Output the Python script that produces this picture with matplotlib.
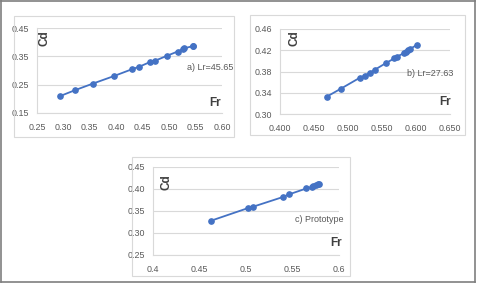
import matplotlib
matplotlib.use("Agg")
import matplotlib.pyplot as plt
from matplotlib.patches import Rectangle
from matplotlib.lines import Line2D

plt.rcParams['font.family'] = ['Liberation Sans', 'DejaVu Sans']

# a) Lr=45.65
fr_a = [0.294, 0.3225, 0.356, 0.395, 0.429, 0.443, 0.464, 0.474, 0.496, 0.516, 0.526, 0.528, 0.5445, 0.546]
cd_a = [0.210, 0.231, 0.254, 0.280, 0.304, 0.313, 0.330, 0.335, 0.352, 0.367, 0.375, 0.378, 0.386, 0.387]
# b) Lr=27.63
fr_b = [0.469, 0.490, 0.518, 0.525, 0.5326, 0.539, 0.556, 0.568, 0.5715, 0.583, 0.585, 0.588, 0.5906, 0.601]
cd_b = [0.3328, 0.348, 0.3687, 0.3724, 0.378, 0.383, 0.396, 0.4046, 0.4077, 0.415, 0.417, 0.420, 0.422, 0.4298]
# c) Prototype
fr_c = [0.4629, 0.502, 0.508, 0.540, 0.546, 0.565, 0.5707, 0.5725, 0.5757, 0.5775, 0.579]
cd_c = [0.3283, 0.3565, 0.360, 0.382, 0.3876, 0.4013, 0.4044, 0.4059, 0.4089, 0.4105, 0.412]

xt_a = [0.25, 0.30, 0.35, 0.40, 0.45, 0.50, 0.55, 0.60]
yt_a = [0.15, 0.25, 0.35, 0.45]
xt_b = [0.400, 0.450, 0.500, 0.550, 0.600, 0.650]
yt_b = [0.30, 0.34, 0.38, 0.42, 0.46]
xt_c = [0.4, 0.45, 0.5, 0.55, 0.6]
yt_c = [0.25, 0.30, 0.35, 0.40, 0.45]

W, H = 480, 284
BLUE = "#4472C4"
GRID = "#D9D9D9"
TXT = "#595959"

fig = plt.figure(figsize=(W / 100, H / 100), dpi=100)


def px_rect(x0, y0, x1, y1):
    return [x0 / W, 1 - y1 / H, (x1 - x0) / W, (y1 - y0) / H]


def panel(box, area, fr, cd, xt, yt, xfmt, yfmt, label, lab_xy, cd_xy, fr_xy):
    x0, y0, x1, y1 = box
    fig.patches.append(Rectangle((x0 / W, 1 - y1 / H), (x1 - x0) / W, (y1 - y0) / H,
                                 transform=fig.transFigure, fill=False,
                                 edgecolor=GRID, lw=0.8))
    ax = fig.add_axes(px_rect(*area))
    ax.plot(fr, cd, color=BLUE, lw=1.3, marker="o", ms=3.8, zorder=3)
    ax.set_xlim(xt[0], xt[-1])
    ax.set_ylim(yt[0], yt[-1])
    ax.set_xticks(xt)
    ax.set_yticks(yt)
    ax.set_xticklabels([xfmt.format(v) for v in xt])
    ax.set_yticklabels([yfmt.format(v) for v in yt])
    ax.tick_params(length=0, labelsize=6.4, colors=TXT)
    ax.tick_params(axis="y", pad=6)
    ax.tick_params(axis="x", pad=7)
    ax.grid(axis="y", color=GRID, lw=0.8)
    for s in ["top", "right"]:
        ax.spines[s].set_visible(False)
    for s in ["left", "bottom"]:
        ax.spines[s].set_color(GRID)
        ax.spines[s].set_linewidth(0.8)
    fig.text(lab_xy[0] / W, 1 - lab_xy[1] / H, label, fontsize=6.5, color=TXT,
             ha="left", va="center")
    fig.text(cd_xy[0] / W, 1 - cd_xy[1] / H, "Cd", fontsize=8.5, color="#404040",
             fontweight="bold", rotation=90, ha="center", va="center")
    fig.text(fr_xy[0] / W, 1 - fr_xy[1] / H, "Fr", fontsize=8.5, color="#404040",
             fontweight="bold", ha="center", va="center")
    return ax


panel((14, 16, 234, 137), (37, 28, 222, 113), fr_a, cd_a, xt_a, yt_a,
      "{:.2f}", "{:.2f}", "a) Lr=45.65", (187, 67), (45, 38), (215, 103))
panel((250, 15, 465, 135), (280, 29, 450, 114), fr_b, cd_b, xt_b, yt_b,
      "{:.3f}", "{:.2f}", "b) Lr=27.63", (407, 73), (295, 38), (445, 102))
panel((132, 157, 350, 276), (153, 167, 339, 255), fr_c, cd_c, xt_c, yt_c,
      "{:g}", "{:.2f}", "c) Prototype", (295, 220), (167, 182), (336, 243))

# outer frame
for xs, ys in [((1, 1), (0, 282)), ((1, 475), (1, 1)), ((475, 475), (0, 282)), ((1, 475), (282, 282))]:
    fig.add_artist(Line2D([x / W for x in xs], [1 - y / H for y in ys],
                          transform=fig.transFigure, color="#7F7F7F", lw=1.2))

fig.savefig("out.png", dpi=100)
